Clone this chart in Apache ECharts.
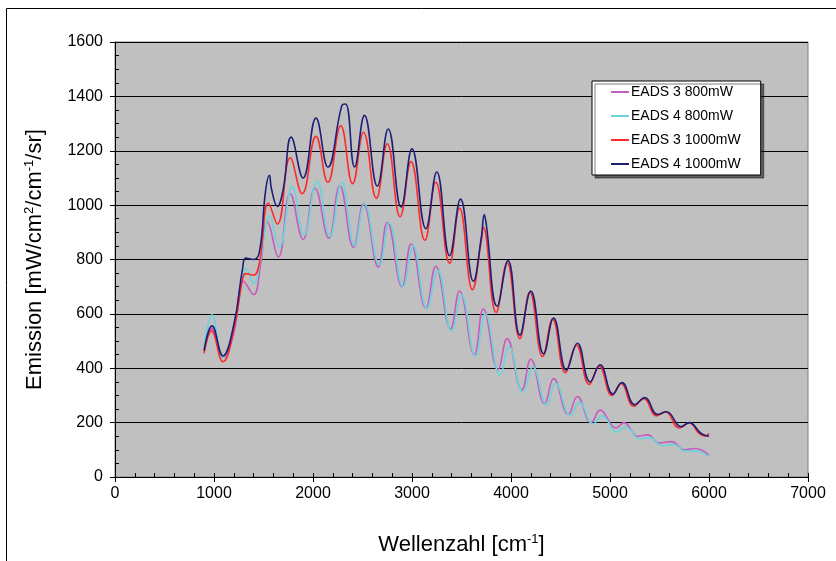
<!DOCTYPE html>
<html>
<head>
<meta charset="utf-8">
<script src="https://cdn.jsdelivr.net/npm/echarts@6/dist/echarts.min.js"></script>
<style>
  html, body { margin: 0; padding: 0; background: #fff; }
  #chart { width: 836px; height: 561px; }
</style>
</head>
<body>
<div id="chart"></div>
<script>
// series names (legend order)
const seriesNames = ['EADS 3 800mW', 'EADS 4 800mW', 'EADS 3 1000mW', 'EADS 4 1000mW']

// [wavenumber, emission] (peaks / troughs)
const eads3_800 = [
  [900, 470], [975, 545], [1095, 440], [1200, 530], [1300, 720], [1400, 671], [1470, 780], [1540, 939],
  [1650, 809], [1770, 1042], [1900, 874], [2020, 1062], [2160, 878], [2270, 1071], [2410, 845], [2510, 1005],
  [2660, 772], [2750, 937], [2900, 700], [2990, 858], [3140, 621], [3240, 775], [3390, 545], [3480, 684],
  [3630, 450], [3720, 618], [3870, 395], [3960, 509], [4110, 320], [4200, 433], [4340, 270], [4430, 362],
  [4580, 230], [4670, 296], [4810, 200], [4900, 246], [5060, 180], [5140, 200], [5280, 150], [5380, 155],
  [5500, 125], [5620, 130], [5750, 100], [5860, 105], [6000, 80]
]
const eads4_800 = [
  [900, 475], [980, 597], [1090, 440], [1200, 545], [1330, 768], [1400, 713], [1470, 800], [1560, 960],
  [1660, 845], [1790, 1068], [1910, 890], [2040, 1088], [2170, 885], [2290, 1082], [2420, 850], [2520, 1005],
  [2670, 780], [2770, 935], [2910, 700], [3010, 850], [3150, 620], [3260, 760], [3400, 535], [3500, 670],
  [3640, 445], [3740, 600], [3890, 374], [3980, 480], [4120, 311], [4220, 405], [4360, 265], [4450, 345],
  [4600, 225], [4690, 275], [4830, 195], [4920, 225], [5070, 165], [5160, 185], [5300, 140], [5400, 145],
  [5530, 115], [5640, 120], [5760, 95], [5860, 95], [6000, 75]
]
const eads3_1000 = [
  [900, 455], [975, 537], [1090, 424], [1200, 540], [1290, 730], [1320, 748], [1400, 742], [1460, 790],
  [1550, 1008], [1640, 930], [1770, 1174], [1890, 1042], [2030, 1253], [2150, 1084], [2280, 1292], [2400, 1079],
  [2510, 1268], [2640, 1025], [2750, 1226], [2880, 957], [2990, 1160], [3130, 871], [3240, 1084], [3380, 786],
  [3480, 989], [3610, 689], [3700, 870], [3720, 918], [3850, 605], [3960, 788], [4090, 509], [4190, 680],
  [4320, 443], [4420, 580], [4550, 384], [4660, 485], [4790, 340], [4890, 408], [5020, 300], [5110, 345],
  [5240, 260], [5340, 288], [5470, 225], [5560, 240], [5700, 180], [5800, 200], [5900, 160], [5960, 150], [6000, 160]
]
const eads4_1000 = [
  [900, 465], [980, 556], [1090, 445], [1200, 560], [1290, 770], [1320, 805], [1400, 800], [1460, 830],
  [1520, 1050], [1560, 1110], [1580, 1060], [1640, 995], [1700, 1060], [1780, 1250], [1900, 1100], [2030, 1320],
  [2150, 1140], [2290, 1365], [2330, 1372], [2420, 1140], [2520, 1330], [2650, 1070], [2760, 1280], [2890, 993],
  [3000, 1207], [3140, 913], [3250, 1122], [3380, 814], [3490, 1022], [3620, 720], [3700, 880], [3730, 965],
  [3750, 930], [3860, 628], [3970, 796], [4090, 522], [4200, 684], [4330, 453], [4430, 585], [4560, 393],
  [4670, 492], [4800, 350], [4900, 413], [5030, 305], [5120, 347], [5250, 266], [5350, 292], [5480, 230],
  [5570, 240], [5720, 185], [5800, 200], [5920, 160], [6000, 150]
]

const colors = ['#c55cc0', '#6cd2dc', '#ff2a2a', '#1f1f78']
const seriesData = [eads3_800, eads4_800, eads3_1000, eads4_1000]

const font = 'Liberation Sans, Arial, sans-serif'
const plain = v => String(v)

const chart = echarts.init(document.getElementById('chart'))
chart.setOption({
  animation: false,
  backgroundColor: '#fff',
  textStyle: { fontFamily: font },
  graphic: [{
    type: 'rect',
    shape: { x: 6.5, y: 8.5, width: 900, height: 600 },
    style: { fill: 'none', stroke: '#000', lineWidth: 1 },
    z: -1
  }],
  grid: {
    left: 115, top: 42, width: 693, height: 435,
    show: true, backgroundColor: '#c0c0c0', borderColor: '#808080', borderWidth: 1
  },
  legend: {
    orient: 'vertical',
    left: 592, top: 81,
    itemGap: 10,
    itemWidth: 18, itemHeight: 2,
    icon: 'rect',
    padding: [4, 20, 4, 19],
    backgroundColor: '#fff',
    borderColor: '#000', borderWidth: 1,
    shadowColor: 'rgba(0,0,0,0.5)', shadowOffsetX: 3, shadowOffsetY: 3, shadowBlur: 0,
    textStyle: { fontSize: 14, color: '#000', fontFamily: font, padding: [0, 0, 0, -3] },
    data: seriesNames
  },
  xAxis: [{
    type: 'value', min: 0, max: 7000, interval: 1000,
    name: 'Wellenzahl [cm{sup|-1}]',
    nameLocation: 'middle', nameGap: 56,
    nameTextStyle: {
      fontSize: 22, color: '#000', fontFamily: font,
      rich: { sup: { fontSize: 13, verticalAlign: 'top', lineHeight: 24 } }
    },
    axisLine: { onZero: false, lineStyle: { color: '#000', width: 1 } },
    axisTick: { length: 5, lineStyle: { color: '#000' } },
    axisLabel: { fontSize: 16, color: '#000', margin: 9, formatter: plain },
    splitLine: { show: false }
  }, {
    type: 'value', min: 0, max: 7000, interval: 200, position: 'bottom',
    axisLine: { show: false },
    axisTick: { inside: true, length: 4, lineStyle: { color: '#000' } },
    axisLabel: { show: false },
    splitLine: { show: false }
  }],
  yAxis: [{
    type: 'value', min: 0, max: 1600, interval: 200,
    name: 'Emission [mW/cm{sup|2}/cm{sup|-1}/sr]',
    nameLocation: 'middle', nameGap: 68,
    nameTextStyle: {
      fontSize: 22, color: '#000', fontFamily: font,
      rich: { sup: { fontSize: 13, verticalAlign: 'top', lineHeight: 24 } }
    },
    axisLine: { show: true, lineStyle: { color: '#000', width: 1 } },
    axisTick: { show: true, length: 5, lineStyle: { color: '#000' } },
    axisLabel: { fontSize: 16, color: '#000', margin: 12, formatter: plain },
    splitLine: { show: true, lineStyle: { color: '#000', width: 1 } }
  }, {
    type: 'value', min: 0, max: 1600, interval: 50, position: 'left',
    axisLine: { show: false },
    axisTick: { show: true, inside: true, length: 4, lineStyle: { color: '#000' } },
    axisLabel: { show: false },
    splitLine: { show: false }
  }],
  series: seriesData.map((d, i) => ({
    name: seriesNames[i],
    type: 'line',
    data: d,
    smooth: 0.45,
    showSymbol: false,
    symbol: 'none',
    color: colors[i],
    lineStyle: { color: colors[i], width: 1.6 },
    z: 2 + i
  }))
})
</script>
</body>
</html>
